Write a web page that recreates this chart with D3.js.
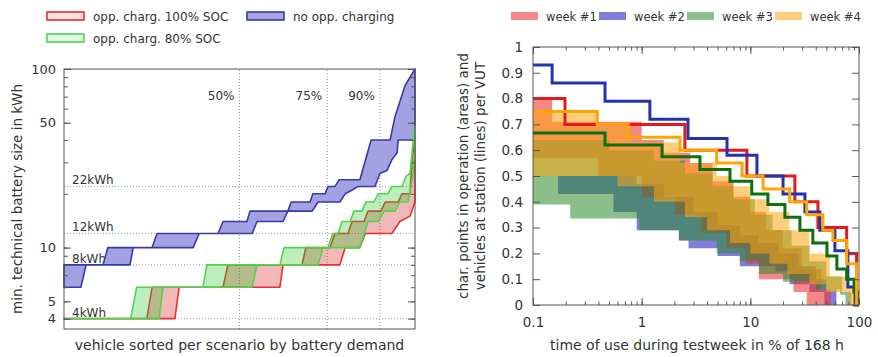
<!DOCTYPE html>
<html>
<head>
<meta charset="utf-8">
<script src="https://cdn.jsdelivr.net/npm/d3@7"></script>
<style>
  body { margin: 0; background: #fff; }
  svg { display: block; font-family: "DejaVu Sans", sans-serif; }
  .axis text { font-size: 13px; fill: #333; font-family: "DejaVu Sans", sans-serif; }
  .axis line { stroke: #555; }
  .axis path { display: none; }
</style>
</head>
<body>
<svg id="chart" width="878" height="357"></svg>
<script>
// ---------- left chart: battery size per vehicle (% of fleet, kWh) ----------
const blueUpper = [[0,8],[11.1,8],[12.5,10],[25.1,10],[26.5,12],[43.9,12],[45.3,14],[52.1,14],[53,16],[63.8,16],[64.7,18],[70.1,18],[70.9,20],[74.4,20],[75.2,22],[77.2,22],[78.4,24],[84.3,24],[87.5,40],[92.9,40],[94.3,54],[97.2,81],[100,100]];
const blueLower = [[0,6],[4.8,6],[6.3,8],[18.8,8],[19.7,10],[36.8,10],[38.5,12],[53.6,12],[55,14],[62.4,14],[63.8,16],[70.7,16],[72.4,18],[78.6,18],[80.1,20],[82.1,21],[83.8,22],[88.6,22],[90,26],[92,27],[93.4,31],[94.9,34],[95.2,40],[100,40]];
const greenUpper = [[0,4],[19,4],[20.7,6],[39.6,6],[40.7,8],[61.5,8],[62.7,10],[75.2,10],[76.6,12],[78.1,12],[79.2,14],[81.5,14],[82.6,16],[84.9,16],[86,18],[88.3,18],[89.5,20],[92.3,20],[93.4,22],[96.3,22],[97.4,25],[98.6,26],[99.4,38],[100,48]];
const greenLower = [[0,4],[27.1,4],[28.2,6],[53.6,6],[55,8],[72.4,8],[73.8,10],[84.3,10],[86.6,14],[89.5,14],[91.2,16],[94.3,16],[95.7,18],[98,18],[99.4,25],[100,36]];
const redUpper = [[0,4],[23.6,4],[25.1,6],[45.3,6],[46.7,8],[67.8,8],[68.9,10],[75.8,10],[77.2,12],[80.9,12],[82.1,14],[85.5,14],[86.6,16],[90.3,16],[91.5,18],[95.2,18],[96.3,20],[98.6,20],[99.1,31],[100,40]];
const redLower = [[0,4],[31.6,4],[32.8,6],[61.5,6],[62.4,8],[78.6,8],[80.1,10],[84.3,10],[85.8,12],[93.4,12],[95.7,14],[98.6,15],[100,18]];

const leftYTicks = [4, 5, 10, 50, 100];
const kwhLines = [4, 8, 12, 22];
const kwhLabels = ["4kWh", "8kWh", "12kWh", "22kWh"];
const pctLines = [50, 75, 90];
const pctLabels = ["50%", "75%", "90%"];
const leftLegend = ["opp. charg. 100% SOC", "no opp. charging", "opp. charg. 80% SOC"];

// ---------- right chart: char. points / vehicles vs time of use ----------
const weeks = ["week #1", "week #2", "week #3", "week #4"];
const weekLines = [
  [[0.1,0.8],[0.197,0.7],[2.5,0.6],[9.3,0.5],[25.7,0.4],[41.9,0.3],[77,0.2],[95,0],[100,0]],
  [[0.1,0.93],[0.15,0.86],[0.46,0.79],[1.19,0.72],[2.67,0.645],[6.1,0.58],[11.5,0.5],[20,0.43],[31.8,0.36],[43.7,0.29],[60,0.21],[79,0.07],[92,0],[100,0]],
  [[0.1,0.667],[0.46,0.62],[1.54,0.575],[3.44,0.525],[6.5,0.48],[10.3,0.43],[14.5,0.39],[20.8,0.34],[28.6,0.29],[37.6,0.24],[50.7,0.19],[62.6,0.14],[77,0.1],[90,0.05],[97,0],[100,0]],
  [[0.1,0.75],[0.39,0.7],[0.75,0.65],[2.25,0.6],[4.9,0.55],[8.4,0.5],[13.1,0.45],[23,0.4],[33,0.35],[46.5,0.29],[57.5,0.25],[77,0.16],[95,0],[100,0]]
];
const weekAreaUpper = [
  [[0.1,0.80],[0.15,0.71],[1.0,0.64],[1.6,0.59],[2.8,0.55],[4.5,0.48],[7,0.42],[10,0.36],[14,0.29],[20,0.22],[30,0.14],[45,0.06],[55,0]],
  [[0.17,0.50],[0.9,0.47],[1.6,0.42],[3,0.36],[5,0.31],[8,0.27],[12,0.24],[18,0.2],[28,0.15],[40,0.1],[50,0.06],[62,0]],
  [[0.1,0.64],[0.5,0.60],[1.3,0.56],[2.5,0.51],[4.5,0.46],[7,0.41],[11,0.35],[16,0.29],[24,0.23],[35,0.17],[50,0.11],[70,0.05],[85,0]],
  [[0.1,0.75],[0.4,0.69],[0.8,0.63],[2.25,0.55],[4.9,0.50],[6.5,0.46],[10,0.41],[15,0.36],[23,0.29],[35,0.20],[54,0.11],[80,0.07],[95,0]]
];
const weekAreaLower = [
  [[0.1,0.57],[0.4,0.50],[1.0,0.42],[2,0.35],[3.5,0.28],[6,0.22],[9,0.16],[12,0.10],[25,0.05],[33,0]],
  [[0.17,0.43],[0.55,0.36],[0.9,0.29],[2.2,0.25],[2.7,0.22],[5,0.19],[8,0.15],[17,0.13],[23,0.08],[35,0.05],[48,0]],
  [[0.1,0.39],[0.22,0.335],[0.95,0.29],[2.2,0.25],[4.9,0.20],[8,0.17],[12,0.12],[20,0.09],[40,0.06],[67,0.04],[75,0]],
  [[0.1,0.50],[0.6,0.46],[1.3,0.40],[2.5,0.34],[4,0.29],[6.5,0.24],[10,0.2],[15,0.16],[22,0.12],[35,0.08],[50,0.05],[80,0]]
];
const rightYTicks = [0, 0.1, 0.2, 0.3, 0.4, 0.5, 0.6, 0.7, 0.8, 0.9, 1];
const rightYLabels = ["0", "0.1", "0.2", "0.3", "0.4", "0.5", "0.6", "0.7", "0.8", "0.9", "1"];
const rightXTicks = [0.1, 1, 10, 100];
const rightXLabels = ["0.1", "1", "10", "100"];

const weekLineColors = ["#e3191c", "#2233b0", "#0c700c", "#ffa400"];
const weekAreaColors = ["#f03030", "#2a2ac0", "#2a8a2a", "#ffa510"];
const weekAreaOpacity = [0.58, 0.6, 0.55, 0.55];
const areaDrawOrder = [1, 0, 2, 3];   // blue, red, green, yellow

const svg = d3.select("#chart");

// ================= LEFT =================
const xL = d3.scaleLinear().domain([0, 100]).range([64, 415]);
const yL = d3.scaleLog().domain([3.5, 100]).range([329, 69]);
const left = svg.append("g");

// dotted grid
left.selectAll(".hgrid").data(kwhLines).enter().append("line")
  .attr("x1", xL(0)).attr("x2", xL(100))
  .attr("y1", d => yL(d)).attr("y2", d => yL(d))
  .attr("stroke", "#999").attr("stroke-dasharray", "1,2");
left.selectAll(".vgrid").data(pctLines).enter().append("line")
  .attr("x1", d => xL(d)).attr("x2", d => xL(d))
  .attr("y1", yL.range()[0]).attr("y2", yL.range()[1])
  .attr("stroke", "#999").attr("stroke-dasharray", "1,2");

left.selectAll(".klab").data(kwhLines).enter().append("text")
  .attr("x", xL(0) + 8).attr("y", d => yL(d) - 2)
  .attr("font-size", 12).attr("fill", "#333")
  .text((d, i) => kwhLabels[i]);
left.selectAll(".plab").data(pctLines).enter().append("text")
  .attr("x", d => xL(d) - 5).attr("y", 100)
  .attr("text-anchor", "end").attr("font-size", 12).attr("fill", "#333")
  .text((d, i) => pctLabels[i]);

const bandLine = d3.line().x(d => xL(d[0])).y(d => yL(d[1]));
function bandPath(upper, lower) {
  return bandLine(upper.concat(lower.slice().reverse())) + "Z";
}
const leftBands = [
  { up: blueUpper, lo: blueLower, fill: "#a2a2e2", fo: 1, stroke: "#3a3aa6" },
  { up: redUpper, lo: redLower, fill: "#d20000", fo: 0.28, stroke: "#e83030" },
  { up: greenUpper, lo: greenLower, fill: "#28c828", fo: 0.3, stroke: "#4cd64c" }
];
left.selectAll(".band").data(leftBands).enter().append("path")
  .attr("d", d => bandPath(d.up, d.lo))
  .attr("fill", d => d.fill).attr("fill-opacity", d => d.fo)
  .attr("stroke", d => d.stroke).attr("stroke-width", 1.6)
  .attr("stroke-linejoin", "round");

// axes (ticks inside, both sides)
const minorL = yL.ticks();
left.append("g").attr("class", "axis").attr("transform", `translate(${xL(0)},0)`)
  .call(d3.axisLeft(yL).tickValues(minorL).tickSize(-4).tickFormat(""));
left.append("g").attr("class", "axis").attr("transform", `translate(${xL(0)},0)`)
  .call(d3.axisLeft(yL).tickValues(leftYTicks).tickSize(-7).tickPadding(8).tickFormat(d3.format("d")));
left.append("g").attr("class", "axis").attr("transform", `translate(${xL(100)},0)`)
  .call(d3.axisRight(yL).tickValues(minorL).tickSize(-4).tickFormat(""));
left.append("g").attr("class", "axis").attr("transform", `translate(${xL(100)},0)`)
  .call(d3.axisRight(yL).tickValues(leftYTicks).tickSize(-7).tickFormat(""));

left.append("rect")
  .attr("x", xL(0)).attr("y", yL.range()[1])
  .attr("width", xL(100) - xL(0)).attr("height", yL.range()[0] - yL.range()[1])
  .attr("fill", "none").attr("stroke", "#555");

left.append("text")
  .attr("transform", `translate(17,${(yL.range()[0] + yL.range()[1]) / 2}) rotate(-90)`)
  .attr("text-anchor", "middle").attr("dominant-baseline", "central")
  .attr("font-size", 13.5).attr("fill", "#333")
  .text("min. technical battery size in kWh");
left.append("text")
  .attr("x", (xL(0) + xL(100)) / 2).attr("y", 350)
  .attr("text-anchor", "middle").attr("font-size", 14).attr("fill", "#333")
  .text("vehicle sorted per scenario by battery demand");

// legend
const legL = [
  { x: 47, y: 12, fill: "#d20000", fo: 0.12, stroke: "#e83030", label: leftLegend[0] },
  { x: 247, y: 12, fill: "#a2a2e2", fo: 1, stroke: "#3a3aa6", label: leftLegend[1] },
  { x: 47, y: 34, fill: "#28c828", fo: 0.12, stroke: "#4cd64c", label: leftLegend[2] }
];
const lg = left.selectAll(".leg").data(legL).enter().append("g");
lg.append("rect").attr("x", d => d.x).attr("y", d => d.y).attr("width", 37).attr("height", 8)
  .attr("fill", d => d.fill).attr("fill-opacity", d => d.fo)
  .attr("stroke", d => d.stroke).attr("stroke-width", 1.6);
lg.append("text").attr("x", d => d.x + 46).attr("y", d => d.y + 8.5)
  .attr("font-size", 12).attr("fill", "#333").text(d => d.label);

// ================= RIGHT =================
const xR = d3.scaleLog().domain([0.1, 100]).range([533, 859]);
const yR = d3.scaleLinear().domain([0, 1]).range([305, 47]);
const right = svg.append("g");

function stepAt(pts, x) {
  let v = null;
  for (const p of pts) { if (p[0] <= x + 1e-9) v = p[1]; else break; }
  return v;
}
function bandRows(upper, lower) {
  const xs = Array.from(new Set(upper.map(p => p[0]).concat(lower.map(p => p[0])))).sort((a, b) => a - b);
  return xs.map(x => {
    const u = stepAt(upper, x);
    let l = stepAt(lower, x);
    if (l === null) l = u;
    return { x: x, y1: u, y0: Math.min(l, u) };
  });
}
const stepArea = d3.area().curve(d3.curveStepAfter)
  .x(d => xR(d.x)).y0(d => yR(d.y0)).y1(d => yR(d.y1));

right.selectAll(".warea").data(areaDrawOrder).enter().append("path")
  .attr("d", i => stepArea(bandRows(weekAreaUpper[i], weekAreaLower[i])))
  .attr("fill", i => weekAreaColors[i])
  .attr("fill-opacity", i => weekAreaOpacity[i])
  .attr("stroke", "none");

const stepLine = d3.line().curve(d3.curveStepAfter).x(d => xR(d[0])).y(d => yR(d[1]));
right.selectAll(".wline").data(weeks).enter().append("path")
  .attr("d", (d, i) => stepLine(weekLines[i]))
  .attr("fill", "none").attr("stroke", (d, i) => weekLineColors[i])
  .attr("stroke-width", 3).attr("stroke-linejoin", "miter");

const minorR = xR.ticks();
right.append("g").attr("class", "axis").attr("transform", `translate(0,${yR(0)})`)
  .call(d3.axisBottom(xR).tickValues(minorR).tickSize(-3.5).tickFormat(""));
right.append("g").attr("class", "axis").attr("transform", `translate(0,${yR(0)})`)
  .call(d3.axisBottom(xR).tickValues(rightXTicks).tickSize(-7).tickPadding(12)
    .tickFormat((d, i) => rightXLabels[i]));
right.append("g").attr("class", "axis").attr("transform", `translate(0,${yR(1)})`)
  .call(d3.axisTop(xR).tickValues(minorR).tickSize(-3.5).tickFormat(""));
right.append("g").attr("class", "axis").attr("transform", `translate(0,${yR(1)})`)
  .call(d3.axisTop(xR).tickValues(rightXTicks).tickSize(-7).tickFormat(""));
right.append("g").attr("class", "axis").attr("transform", `translate(${xR(0.1)},0)`)
  .call(d3.axisLeft(yR).tickValues(rightYTicks).tickSize(-7).tickPadding(10)
    .tickFormat((d, i) => rightYLabels[i]));
right.append("g").attr("class", "axis").attr("transform", `translate(${xR(100)},0)`)
  .call(d3.axisRight(yR).tickValues(rightYTicks).tickSize(-7).tickFormat(""));
right.selectAll(".axis text").style("font-size", "13.5px");

right.append("rect")
  .attr("x", xR(0.1)).attr("y", yR(1))
  .attr("width", xR(100) - xR(0.1)).attr("height", yR(0) - yR(1))
  .attr("fill", "none").attr("stroke", "#555");

const midR = (yR(0) + yR(1)) / 2;
right.append("text")
  .attr("transform", `translate(463,${midR}) rotate(-90)`)
  .attr("text-anchor", "middle").attr("dominant-baseline", "central")
  .attr("font-size", 13.5).attr("fill", "#333")
  .text("char. points in operation (areas) and");
right.append("text")
  .attr("transform", `translate(480,${midR}) rotate(-90)`)
  .attr("text-anchor", "middle").attr("dominant-baseline", "central")
  .attr("font-size", 13.5).attr("fill", "#333")
  .text("vehicles at station (lines) per VUT");
right.append("text")
  .attr("x", 697).attr("y", 350)
  .attr("text-anchor", "middle").attr("font-size", 14).attr("fill", "#333")
  .text("time of use during testweek in % of 168 h");

// legend
const lgR = right.selectAll(".legr").data(weeks).enter().append("g")
  .attr("transform", (d, i) => `translate(${511 + i * 88},12)`);
lgR.append("rect").attr("width", 27).attr("height", 8)
  .attr("fill", (d, i) => weekAreaColors[i])
  .attr("fill-opacity", (d, i) => weekAreaOpacity[i]);
lgR.append("text").attr("x", 35).attr("y", 9)
  .attr("font-size", 11.5).attr("fill", "#333").text(d => d);
</script>
</body>
</html>
